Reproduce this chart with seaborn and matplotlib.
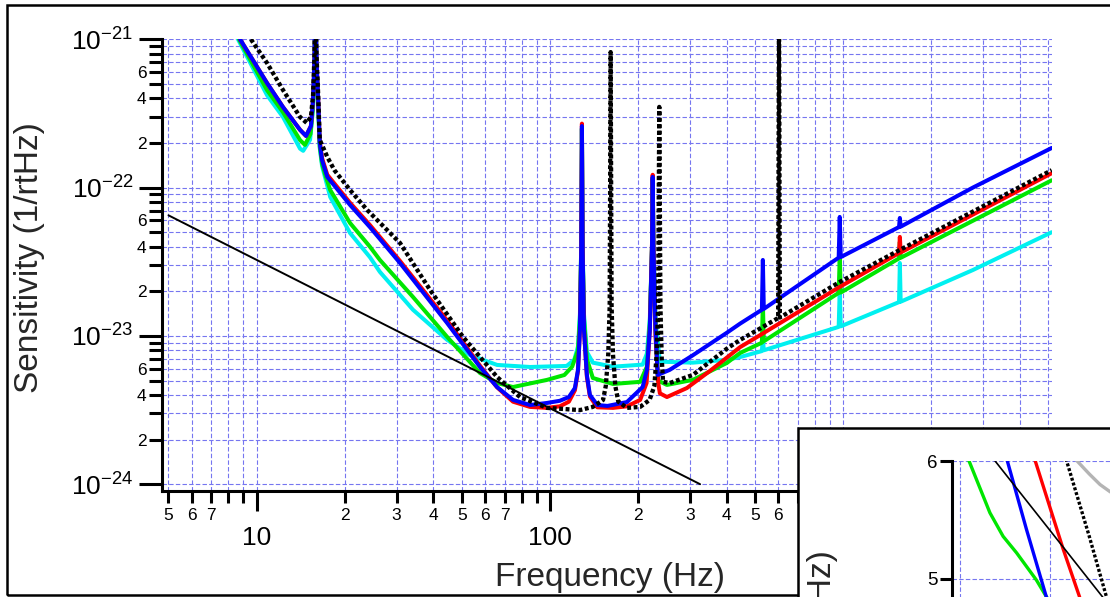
import numpy as np
import matplotlib
matplotlib.use("Agg")
import matplotlib.pyplot as plt
import seaborn as sns
from matplotlib.patches import Rectangle
from matplotlib.ticker import FixedLocator, FuncFormatter

# Main plot: frequency (Hz) vs sensitivity (1/rtHz)

cyan_f = [8.63, 10.84, 12.29, 14.05, 14.4, 15.2, 15.56, 15.74, 15.85, 15.98, 16.2, 16.4, 16.7,
          17.8, 20.8, 24.3, 26.3, 34.1, 44.6, 53.3, 66.0, 85.5, 114, 121, 124.6, 126.5, 127.8,
          128.5, 129.2, 130.6, 133.6, 140, 164, 207, 214, 219, 222.8, 224, 225.3, 229, 237,
          307, 401, 445, 528, 532, 536, 965, 973, 981, 1550, 1560, 1570, 2768, 5140]
cyan_s = [1.0e-21, 4.2e-22, 2.99e-22, 1.83e-22, 1.77e-22, 2.1e-22, 3.4e-22, 7e-22, 2e-21, 7e-22,
          3.4e-22, 1.85e-22, 1.4e-22, 8.65e-23, 4.94e-23, 3.4e-23, 2.7e-23, 1.5e-23, 9.4e-24,
          7.43e-24, 6.37e-24, 6.17e-24, 6.27e-24, 6.9e-24, 8.5e-24, 1.4e-23, 4e-23, 2.5e-22,
          4e-23, 1.4e-23, 7.8e-24, 6.6e-24, 6.2e-24, 6.4e-24, 7.6e-24, 1.3e-23, 4e-23, 1.15e-22,
          4e-23, 1.3e-23, 6.7e-24, 6.6e-24, 6.9e-24, 7.2e-24, 7.9e-24, 9.7e-24, 8.0e-24,
          1.15e-23, 2.04e-23, 1.16e-23, 1.69e-23, 3.1e-23, 1.7e-23, 2.78e-23, 5.0e-23]

green_f = [8.7, 10.84, 12.29, 14.05, 14.6, 15.25, 15.56, 15.74, 15.85, 15.98, 16.2, 16.4, 16.7,
           17.1, 17.8, 20.8, 24.3, 26.3, 34.1, 44.6, 57.7, 66.0, 74.8, 97.7, 112, 119, 124.6,
           126.5, 127.8, 128.5, 129.2, 130.6, 133.6, 140, 164, 203, 214, 219, 222.8, 224, 225.3,
           229, 233.4, 250.5, 307, 401, 445, 528, 532, 536, 965, 973, 981, 1550, 1560, 1570, 5140]
green_s = [1.0e-21, 4.54e-22, 3.22e-22, 2.09e-22, 1.94e-22, 2.3e-22, 3.6e-22, 7.0e-22, 2e-21,
           7.0e-22, 3.6e-22, 1.9e-22, 1.45e-22, 1.23e-22, 9.64e-23, 5.77e-23, 4.0e-23, 3.25e-23,
           1.83e-23, 9.84e-24, 5.62e-24, 4.81e-24, 4.52e-24, 5.05e-24, 5.45e-24, 6.2e-24, 8e-24,
           1.3e-23, 4e-23, 2.5e-22, 4e-23, 1.3e-23, 7e-24, 5.2e-24, 4.74e-24, 4.9e-24, 6.2e-24,
           1.2e-23, 4e-23, 1.15e-22, 4e-23, 1.2e-23, 5.0e-24, 4.67e-24, 5.05e-24, 6.57e-24,
           7.67e-24, 9.0e-24, 1.69e-23, 9.2e-24, 1.95e-23, 3.4e-23, 1.96e-23, 3.33e-23, 4.3e-23,
           3.36e-23, 1.12e-22]

red_f = [8.77, 10.84, 12.29, 14.05, 14.72, 15.3, 15.56, 15.74, 15.85, 15.98, 16.2, 16.4, 16.7,
         17.4, 20.8, 24.3, 30.8, 44.6, 57.7, 66.0, 74.8, 85.5, 97.7, 108, 116, 121.6, 124.6,
         126.5, 127.8, 128.5, 129.2, 130.6, 133.6, 136.8, 145, 164, 183, 203, 213.5, 219, 222.8,
         224, 225.3, 229, 234, 237, 250.5, 293, 351, 445, 520, 973, 1550, 1560, 1570, 5140]
red_s = [1.0e-21, 5.07e-22, 3.49e-22, 2.45e-22, 2.23e-22, 2.6e-22, 3.9e-22, 7.3e-22, 2e-21,
         7.3e-22, 3.9e-22, 2.05e-22, 1.58e-22, 1.22e-22, 7.9e-23, 5.6e-23, 3.2e-23, 1.27e-23,
         6.3e-24, 4.5e-24, 3.6e-24, 3.32e-24, 3.27e-24, 3.35e-24, 3.6e-24, 4.3e-24, 5.8e-24,
         1.1e-23, 3.9e-23, 2.7e-22, 3.9e-23, 1.1e-23, 5.3e-24, 3.9e-24, 3.3e-24, 3.27e-24,
         3.35e-24, 3.7e-24, 4.81e-24, 1.1e-23, 4.2e-23, 1.22e-22, 4.2e-23, 1.0e-23, 4.8e-24,
         4.1e-24, 3.87e-24, 4.45e-24, 5.8e-24, 8.4e-24, 1.01e-23, 2.14e-23, 3.62e-23, 4.65e-23,
         3.65e-23, 1.25e-22]

blue_f = [8.77, 10.84, 12.29, 14.05, 14.72, 15.3, 15.56, 15.74, 15.85, 15.98, 16.2, 16.4, 16.7,
          17.4, 20.8, 24.3, 30.8, 44.6, 57.7, 66.0, 74.8, 85.5, 97.7, 108, 116, 121.6, 124.6,
          126.5, 127.8, 128.5, 129.2, 130.6, 133.6, 136.8, 145, 157, 183, 207, 214, 219, 222.8,
          224, 225.3, 229, 233, 256, 307, 401, 445, 528, 532, 536, 965, 973, 981, 1550, 1560,
          1570, 2768, 5140]
blue_s = [1.0e-21, 5.07e-22, 3.49e-22, 2.45e-22, 2.23e-22, 2.6e-22, 3.9e-22, 7.3e-22, 2e-21,
          7.3e-22, 3.9e-22, 2.0e-22, 1.53e-22, 1.18e-22, 7.64e-23, 5.42e-23, 3.10e-23, 1.22e-23,
          6.17e-24, 4.52e-24, 3.70e-24, 3.42e-24, 3.53e-24, 3.65e-24, 3.87e-24, 4.45e-24, 5.9e-24,
          1.1e-23, 3.8e-23, 2.6e-22, 3.8e-23, 1.1e-23, 5.45e-24, 4.0e-24, 3.42e-24, 3.37e-24,
          3.58e-24, 4.52e-24, 5.9e-24, 1.1e-23, 4e-23, 1.18e-22, 4e-23, 1.1e-23, 5.45e-24, 5.9e-24,
          7.4e-24, 1.05e-23, 1.21e-23, 1.5e-23, 3.25e-23, 1.52e-23, 3.37e-23, 6.34e-23, 3.40e-23,
          5.42e-23, 6.24e-23, 5.45e-23, 1.0e-22, 1.85e-22]

dot_f = [9.55, 10.84, 12.29, 14.05, 14.8, 15.3, 15.56, 15.74, 15.85, 15.98, 16.2, 16.4, 17.4,
         18.4, 20.8, 23.8, 30.8, 39.0, 50.5, 66.0, 79.0, 97.7, 126.5, 140, 151.7, 155, 158,
         159.8, 161, 162.2, 164, 167, 171, 183, 203, 218.6, 227, 231, 233.8, 235.9, 238, 240.5,
         243, 256, 307, 401, 445, 520, 600, 604, 608, 973, 1560, 5140]
dot_s = [1.0e-21, 6.92e-22, 4.55e-22, 2.99e-22, 2.73e-22, 3.0e-22, 4.2e-22, 8e-22, 2e-21, 8e-22,
         4.2e-22, 2.1e-22, 1.61e-22, 1.31e-22, 9.64e-23, 7.06e-23, 4.23e-23, 2.04e-23, 9.84e-24,
         5.28e-24, 3.87e-24, 3.27e-24, 3.16e-24, 3.32e-24, 3.7e-24, 4.6e-24, 7.5e-24, 1.6e-23,
         8.2e-22, 1.6e-23, 7.5e-24, 4.6e-24, 3.6e-24, 3.27e-24, 3.32e-24, 3.7e-24, 4.6e-24,
         7.5e-24, 1.6e-23, 3.5e-22, 1.6e-23, 7.0e-24, 4.9e-24, 4.81e-24, 5.45e-24, 8.2e-24,
         9.4e-24, 1.12e-23, 1.32e-23, 2e-21, 1.33e-23, 2.31e-23, 3.8e-23, 1.31e-22]

black_f = [5, 325]
black_s = [6.5e-23, 1.0e-24]

# Inset (zoomed view): frequency (Hz) vs sensitivity in units of 1e-24
ins_green_f = [50.9, 51.85, 53.33, 54.8, 56.3, 58.5, 59.6, 60.4]
ins_green_s = [6.02, 5.84, 5.56, 5.36, 5.22, 4.99, 4.85, 4.76]
ins_black_f = [53.7, 67.6]
ins_black_s = [6.02, 4.68]
ins_blue_f = [55.2, 57.4, 59.6, 60.3]
ins_blue_s = [6.02, 5.42, 4.85, 4.7]
ins_red_f = [58.3, 61.5, 63.3, 63.8]
ins_red_s = [6.02, 5.25, 4.85, 4.72]
ins_dot_f = [61.8, 64.4, 66.3, 66.9]
ins_dot_s = [6.02, 5.36, 4.85, 4.7]
ins_grey_f = [62.8, 64.4, 65.6, 66.7, 68.5]
ins_grey_s = [6.02, 5.89, 5.8, 5.74, 5.66]

COLORS = {'cyan': '#00f0f0', 'green': '#00e600', 'red': '#ff0000',
          'blue': '#0000ff', 'black': '#000000', 'grey': '#b4b4b4'}
GRID = dict(color='#7676f0', linestyle=(0, (4, 2)), linewidth=0.8)
DOTTED = (0, (0.9, 0.6))


def draw_curve(ax, f, s, color, lw=2.9, ls='-'):
    sns.lineplot(x=f, y=s, ax=ax, color=color, linewidth=lw, linestyle=ls,
                 sort=False, estimator=None)


def lead_digit(v):
    return int(round(v / 10 ** np.floor(np.log10(v) + 1e-9)))


def x_minor_label(v, pos):
    # 8 and 9 carry no label; labels past 600 Hz sit under the second window
    if lead_digit(v) > 7 or v > 650:
        return ''
    return str(lead_digit(v))


sns.set_style('white')
plt.rcParams['font.family'] = ['Liberation Sans', 'DejaVu Sans']
plt.rcParams['mathtext.default'] = 'regular'

fig = plt.figure(figsize=(11.1, 5.97), dpi=100)

# Main graph
ax = fig.add_axes([0.1459, 0.1776, 0.8018, 0.7566])
ax.set_xscale('log')
ax.set_yscale('log')
ax.set_xlim(4.75, 5150)
ax.set_ylim(9.0e-25, 1e-21)

draw_curve(ax, cyan_f, cyan_s, COLORS['cyan'])
draw_curve(ax, green_f, green_s, COLORS['green'])
draw_curve(ax, red_f, red_s, COLORS['red'])
draw_curve(ax, blue_f, blue_s, COLORS['blue'])
draw_curve(ax, black_f, black_s, COLORS['black'], lw=1.4)
draw_curve(ax, dot_f, dot_s, COLORS['black'], lw=3.1, ls=DOTTED)

x_minor = [d * 10 ** k for k in range(0, 4) for d in range(2, 10) if 4.75 <= d * 10 ** k <= 5150]
y_minor = [d * 10.0 ** k for k in range(-24, -21) for d in range(2, 10)]
ax.xaxis.set_major_locator(FixedLocator([10, 100, 1000]))
ax.xaxis.set_minor_locator(FixedLocator(x_minor))
ax.yaxis.set_major_locator(FixedLocator([1e-24, 1e-23, 1e-22, 1e-21]))
ax.yaxis.set_minor_locator(FixedLocator(y_minor))
ax.xaxis.set_major_formatter(FuncFormatter(lambda v, p: f'{v:g}'))
ax.xaxis.set_minor_formatter(FuncFormatter(x_minor_label))
ax.yaxis.set_major_formatter(FuncFormatter(
    lambda v, p: r'$10^{%d}$' % round(np.log10(v))))
ax.yaxis.set_minor_formatter(FuncFormatter(
    lambda v, p: str(lead_digit(v)) if lead_digit(v) in (2, 4, 6) else ''))

ax.tick_params(which='both', direction='out', width=2.2, color='black', labelcolor='black',
               bottom=True, left=True, top=False, right=False)
ax.tick_params(axis='x', which='major', length=14.5, pad=11, labelsize=19)
ax.tick_params(axis='x', which='minor', length=8.5, pad=3.5, labelsize=12.5)
ax.tick_params(axis='y', which='major', length=16.5, pad=4, labelsize=19)
ax.tick_params(axis='y', which='minor', length=9.5, pad=1.5, labelsize=12.5)

for side in ('top', 'right'):
    ax.spines[side].set_visible(False)
for side in ('left', 'bottom'):
    ax.spines[side].set_linewidth(2.2)
    ax.spines[side].set_color('black')

ax.grid(True, which='both', **GRID)
ax.set_axisbelow(True)
ax.set_xlabel('')
ax.set_ylabel('')

fig.text(0.5495, 0.0335, 'Frequency (Hz)', ha='center', va='center', fontsize=24, zorder=5)
fig.text(0.027, 0.568, 'Sensitivity (1/rtHz)', rotation=90, ha='center', va='center',
         fontsize=24, zorder=5)

# Layout frame around the main graph
fig.add_artist(Rectangle((0.0063, 0.0034), 1.2, 0.9882, transform=fig.transFigure,
                         fill=False, edgecolor='black', linewidth=1.8, zorder=1))

# Second graph window, partly outside the picture
fig.add_artist(Rectangle((0.7189, -0.5), 1.0, 0.7831, transform=fig.transFigure,
                         facecolor='white', edgecolor='black', linewidth=1.8, zorder=2))

ax2 = fig.add_axes([0.8577, -0.1725, 0.16, 0.4003])
ax2.set_zorder(3)
ax2.set_xlim(49.11, 68.9)
ax2.set_ylim(3.97, 6.0)

draw_curve(ax2, ins_grey_f, ins_grey_s, COLORS['grey'], lw=2.4)
draw_curve(ax2, ins_green_f, ins_green_s, COLORS['green'], lw=2.4)
draw_curve(ax2, ins_blue_f, ins_blue_s, COLORS['blue'], lw=2.4)
draw_curve(ax2, ins_red_f, ins_red_s, COLORS['red'], lw=2.4)
draw_curve(ax2, ins_black_f, ins_black_s, COLORS['black'], lw=1.2)
draw_curve(ax2, ins_dot_f, ins_dot_s, COLORS['black'], lw=2.4, ls=DOTTED)

ax2.set_xticks([50, 60])
ax2.set_yticks([5, 6])
ax2.set_yticklabels(['5', '6'])
ax2.tick_params(axis='x', length=0, labelbottom=False)
ax2.tick_params(axis='y', left=True, direction='out', length=9, width=2.2,
                labelsize=13.5, pad=1.5, color='black', labelcolor='black')
for side in ('top', 'right', 'bottom'):
    ax2.spines[side].set_visible(False)
ax2.spines['left'].set_linewidth(2.2)
ax2.spines['left'].set_color('black')
ax2.grid(True, **GRID)
ax2.set_axisbelow(True)
ax2.set_xlabel('')
ax2.set_ylabel('')

# The second window's axis title runs off the bottom edge, as in the original layout
fig.text(0.7414, 0.0787, 'Sensitivity (1/rtHz)', rotation=90, ha='center', va='top',
         fontsize=24, zorder=5)

fig.savefig('out.png', dpi=100)
